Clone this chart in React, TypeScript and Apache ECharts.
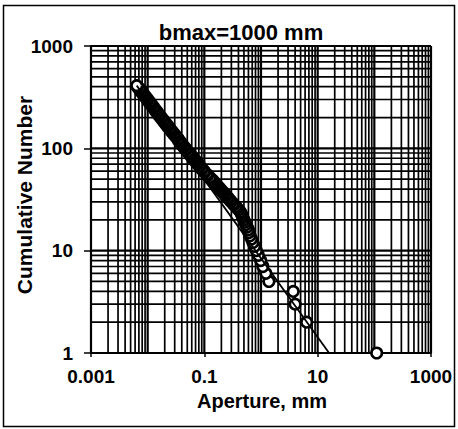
import React, { useEffect, useRef } from "react";
import * as echarts from "echarts";

// Cumulative number (rank) and aperture (mm)
const cumulativeNumber = [
  1, 2, 3, 4, 5, 6, 7, 8, 9, 10, 11, 12, 13, 14, 15, 16, 17, 18, 19, 20,
  21, 22, 23, 24, 25, 26, 27, 28, 29, 30, 31, 32, 33, 34, 35, 36, 37, 38, 39, 40,
  41, 42, 43, 44, 45, 46, 47, 48, 49, 50,
  52, 54, 56, 58, 60, 62, 64, 66, 68, 70, 72, 74, 76, 78, 80, 82, 84, 86, 88, 90,
  93, 96, 99, 102, 105, 108, 111, 114, 117, 120, 124, 128, 132, 136, 140, 144, 148, 152, 157, 162,
  167, 172, 177, 182, 188, 194, 200, 206, 212, 218, 225, 232, 239, 246, 254, 262, 270, 278, 286, 295,
  304, 313, 322, 332, 342, 352, 363, 374, 385, 397, 410,
];
const apertureMm = [
  110, 6.4, 4.0, 3.7, 1.38, 1.22, 1.08, 0.99, 0.9, 0.83, 0.77, 0.72, 0.68, 0.64, 0.61, 0.6, 0.57, 0.54, 0.52, 0.5,
  0.48, 0.465, 0.45, 0.43, 0.404, 0.379, 0.36, 0.332, 0.322, 0.296, 0.288, 0.267, 0.262, 0.242, 0.238, 0.221, 0.218, 0.203, 0.2, 0.186,
  0.185, 0.172, 0.171, 0.159, 0.159, 0.148, 0.149, 0.139, 0.139, 0.13,
  0.125, 0.114, 0.111, 0.101, 0.099, 0.0905, 0.09, 0.0826, 0.0823, 0.0758, 0.0755, 0.0698, 0.0697, 0.0645, 0.0647, 0.0599, 0.0602, 0.0558, 0.0562, 0.0522,
  0.0517, 0.0474, 0.0471, 0.0435, 0.0432, 0.0399, 0.04, 0.0371, 0.0373, 0.0346, 0.0345, 0.0318, 0.0315, 0.0291, 0.029, 0.0268, 0.0267, 0.0248, 0.0246, 0.0226,
  0.0225, 0.0208, 0.0207, 0.0192, 0.0191, 0.0176, 0.01748, 0.01612, 0.01612, 0.0149, 0.01488, 0.0137, 0.01373, 0.01275, 0.01267, 0.01168, 0.01166, 0.01078, 0.01078, 0.00992,
  0.0099, 0.00915, 0.00915, 0.00845, 0.00842, 0.00779, 0.00777, 0.00717, 0.00717, 0.0066, 0.00642,
];

// Power-law fit line end points
const fitAperture = [0.00642, 15.9];
const fitNumber = [410, 1];

// Axis ranges and grid
const xMin = 0.001;
const xMax = 1000;
const yMin = 1;
const yMax = 1000;
const xDecades = [0.001, 0.01, 0.1, 1, 10, 100];
const yDecades = [1, 10, 100];
const gridMultipliers = [1, 2, 3, 4, 5, 6, 7, 8, 9];

const titleText = "bmax=1000 mm";
const xName = "Aperture, mm";
const yName = "Cumulative Number";

const FONT = '"Liberation Sans", Arial, sans-serif';

export default function App() {
  const ref = useRef<HTMLDivElement>(null);

  useEffect(() => {
    if (!ref.current) return;
    const chart = echarts.init(ref.current, undefined, { renderer: "svg" });

    const xGrid: { v: number; major: boolean }[] = [];
    xDecades.forEach((d) => gridMultipliers.forEach((m) => xGrid.push({ v: +(d * m).toPrecision(6), major: m === 1 })));
    xGrid.push({ v: xMax, major: true });
    const yGrid: { v: number; major: boolean }[] = [];
    yDecades.forEach((d) => gridMultipliers.forEach((m) => yGrid.push({ v: +(d * m).toPrecision(6), major: m === 1 })));
    yGrid.push({ v: yMax, major: true });

    const n = Math.min(cumulativeNumber.length, apertureMm.length);
    const points: number[][] = [];
    for (let i = 0; i < n; i++) points.push([apertureMm[i], cumulativeNumber[i]]);

    const fit = fitAperture.map((x, i) => [x, fitNumber[i]]);

    const option: any = {
      animation: false,
      backgroundColor: "#fff",
      grid: { left: 91, right: 27, top: 46, bottom: 76, containLabel: false },
      xAxis: {
        type: "log",
        logBase: 10,
        min: xMin,
        max: xMax,
        interval: 2,
        axisLine: { show: true, lineStyle: { color: "#000", width: 2 } },
        axisTick: { show: true, length: 4, lineStyle: { color: "#000", width: 1.5 } },
        splitLine: { show: false },
        axisLabel: {
          color: "#000",
          fontFamily: FONT,
          fontWeight: "bold",
          fontSize: 19,
          margin: 14,
          formatter: (v: number) => String(v),
        },
      },
      yAxis: {
        type: "log",
        logBase: 10,
        min: yMin,
        max: yMax,
        interval: 1,
        axisLine: { show: true, lineStyle: { color: "#000", width: 2 } },
        axisTick: { show: true, length: 7, lineStyle: { color: "#000", width: 1.5 } },
        splitLine: { show: false },
        axisLabel: {
          color: "#000",
          fontFamily: FONT,
          fontWeight: "bold",
          fontSize: 19,
          margin: 18,
          formatter: (v: number) => String(v),
        },
      },
      series: [
        {
          type: "custom",
          silent: true,
          z: 1,
          data: xGrid.map((g) => [g.v, yMin, g.major ? 1 : 0]),
          renderItem: (params: any, api: any) => {
            const v = api.value(0);
            const p0 = api.coord([v, yMin]);
            const p1 = api.coord([v, yMax]);
            return {
              type: "line",
              shape: { x1: p0[0], y1: p0[1], x2: p1[0], y2: p1[1] },
              style: { stroke: "#000", lineWidth: api.value(2) ? 2.2 : 1.7 },
            };
          },
        },
        {
          type: "custom",
          silent: true,
          z: 1,
          data: yGrid.map((g) => [xMin, g.v, g.major ? 1 : 0]),
          renderItem: (params: any, api: any) => {
            const v = api.value(1);
            const p0 = api.coord([xMin, v]);
            const p1 = api.coord([xMax, v]);
            return {
              type: "line",
              shape: { x1: p0[0], y1: p0[1], x2: p1[0], y2: p1[1] },
              style: { stroke: "#000", lineWidth: api.value(2) ? 2.2 : 1.7 },
            };
          },
        },
        {
          type: "scatter",
          z: 3,
          silent: true,
          symbol: "circle",
          symbolSize: 10.5,
          itemStyle: { color: "#fff", borderColor: "#000", borderWidth: 2.6, opacity: 1 },
          data: points,
        },
        {
          type: "line",
          z: 4,
          silent: true,
          symbol: "none",
          lineStyle: { color: "#000", width: 1.8 },
          data: fit,
        },
      ],
      graphic: [
        {
          type: "rect",
          silent: true,
          shape: { x: 3.5, y: 5.5, width: 451, height: 421 },
          style: { fill: "none", stroke: "#000", lineWidth: 1.5 },
          z: 0,
        },
        {
          type: "text",
          silent: true,
          x: 241,
          y: 32,
          style: {
            text: titleText,
            fill: "#000",
            font: `bold 22px ${FONT}`,
            textAlign: "center",
            textVerticalAlign: "middle",
          },
        },
        {
          type: "text",
          silent: true,
          x: 262,
          y: 401,
          style: {
            text: xName,
            fill: "#000",
            font: `bold 20px ${FONT}`,
            textAlign: "center",
            textVerticalAlign: "middle",
          },
        },
        {
          type: "text",
          silent: true,
          x: 24,
          y: 195,
          rotation: Math.PI / 2,
          style: {
            text: yName,
            fill: "#000",
            font: `bold 21px ${FONT}`,
            textAlign: "center",
            textVerticalAlign: "middle",
          },
        },
      ],
    };

    chart.setOption(option);
    return () => chart.dispose();
  }, []);

  return (
    <div
      ref={ref}
      style={{ position: "absolute", left: 0, top: 0, width: 458, height: 429, background: "#fff" }}
    />
  );
}
